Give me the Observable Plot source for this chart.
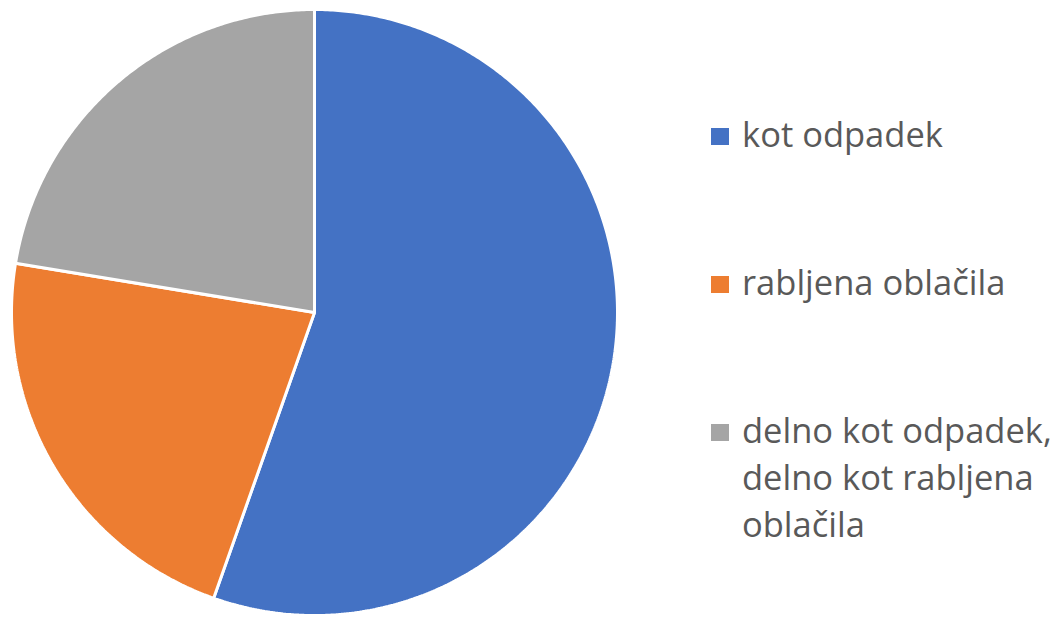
<!DOCTYPE html>
<html>
<head>
<meta charset="utf-8">
<script src="https://cdn.jsdelivr.net/npm/d3@7"></script>
<script src="https://cdn.jsdelivr.net/npm/@observablehq/plot@0.6"></script>
<style>
  html, body { margin: 0; padding: 0; background: #fff; }
  #wrap { position: relative; width: 1063px; height: 618px; overflow: hidden; }
  #legend { position: absolute; left: 711px; top: 0; font-family: "Open Sans", sans-serif; font-size: 34.5px; line-height: 47px; color: #595959; }
  .item { position: absolute; left: 0; white-space: nowrap; }
  .sw { position: absolute; left: 0; width: 18px; height: 17px; }
  .lbl { position: absolute; left: 31px; }
</style>
</head>
<body>
<div id="wrap"><div id="chart"></div><div id="legend"></div></div>
<script>
const categories = ["kot odpadek", "rabljena oblačila", "delno kot odpadek, delno kot rabljena oblačila"];
const legendLines = [["kot odpadek"], ["rabljena oblačila"], ["delno kot odpadek,", "delno kot rabljena", "oblačila"]];
const values = [55.4, 22.2, 22.4];
const colors = ["#4472C4", "#ED7D31", "#A5A5A5"];

const arcs = d3.pie().sort(null).value(d => d.value)(categories.map((c, i) => ({key: c, value: values[i]})));
const pts = [];
for (const a of arcs) {
  pts.push({key: a.data.key, x: 0, y: 0});
  const n = Math.max(2, Math.ceil((a.endAngle - a.startAngle) / (Math.PI / 360)));
  for (let k = 0; k <= n; k++) {
    const t = a.startAngle + (a.endAngle - a.startAngle) * k / n;
    pts.push({key: a.data.key, x: Math.sin(t), y: Math.cos(t)});
  }
}

const chart = Plot.plot({
  width: 1063,
  height: 618,
  margin: 0,
  x: {domain: [-1, 1], range: [11, 617], axis: null},
  y: {domain: [-1, 1], range: [615, 9], axis: null},
  color: {domain: categories, range: colors},
  marks: [
    Plot.line(pts, {x: "x", y: "y", z: "key", fill: "key", stroke: "white", strokeWidth: 3, strokeLinejoin: "miter", curve: "linear-closed"})
  ]
});
document.getElementById("chart").appendChild(chart);

const legend = document.getElementById("legend");
const tops = [110, 258, 406];
categories.forEach((c, i) => {
  const it = document.createElement("div");
  it.className = "item";
  it.style.top = tops[i] + "px";
  const sw = document.createElement("div");
  sw.className = "sw";
  sw.style.background = colors[i];
  sw.style.top = "18px";
  const lb = document.createElement("div");
  lb.className = "lbl";
  lb.innerHTML = legendLines[i].join("<br>");
  it.appendChild(sw);
  it.appendChild(lb);
  legend.appendChild(it);
});
</script>
</body>
</html>
